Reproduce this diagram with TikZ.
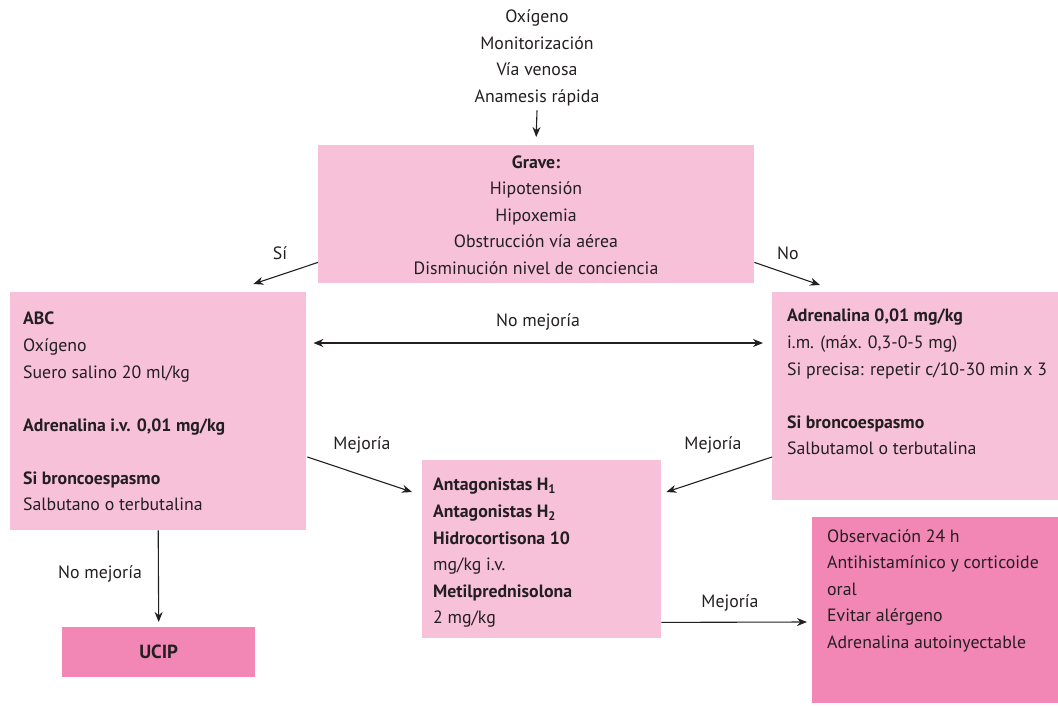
\documentclass[tikz,border=0pt]{standalone}
\usepackage{fontspec}
\setmainfont{PT Sans}
\usetikzlibrary{calc, arrows.meta}
\definecolor{softpink}{HTML}{F7C1D9}
\definecolor{deeppink}{HTML}{F287B6}
\definecolor{inkgray}{HTML}{231F20}
\tikzset{
  pale box/.style={fill=softpink, draw=none, inner sep=0pt, anchor=north west},
  deep box/.style={fill=deeppink, draw=none, inner sep=0pt, anchor=north west},
  box text/.style={inner sep=0pt, anchor=north west, align=left, text=inkgray},
  flow arrow/.style={-{Stealth[length=10pt, width=8pt]}, line width=1.1pt, inkgray},
  edge label/.style={inner sep=0pt, text=inkgray},
}
\newcommand{\gap}{\\[26.5pt]}

\begin{document}
\begin{tikzpicture}[x=1pt, y=-1pt, font=\fontsize{17.8}{26.6}\selectfont]
  \useasboundingbox (0,0) rectangle (1058,707);
  % first steps
  \node[edge label, align=center] (first) at (537,58) {Oxígeno\\Monitorización\\Vía venosa\\Anamesis rápida};
  \node[pale box, minimum width=436, minimum height=138] (grave) at (318,145) {};
  \node[edge label, align=center] (grave text) at (536,215) {\textbf{Grave:}\\Hipotensión\\Hipoxemia\\Obstrucción vía aérea\\Disminución nivel de conciencia};
  % left branch
  \node[pale box, minimum width=296, minimum height=238] (abc) at (10,292) {};
  \node[box text] (abc text) at (23,312) {\textbf{ABC}\\Oxígeno\\Suero salino 20 ml/kg\gap\textbf{Adrenalina i.v. 0,01 mg/kg}\gap\textbf{Si broncoespasmo}\\Salbutano o terbutalina};
  \node[deep box, minimum width=193, minimum height=50] (ucip) at (62,627) {};
  \node[edge label, font=\fontsize{19}{22}\selectfont\bfseries] (ucip text) at (ucip.center) {UCIP};
  % right branch
  \node[pale box, minimum width=286, minimum height=208] (adr) at (772,292) {};
  \node[box text] (adr text) at (787,309) {\textbf{Adrenalina 0,01 mg/kg}\\i.m. (máx. 0,3-0-5 mg)\\Si precisa: repetir c/10-30 min x 3\gap\textbf{Si broncoespasmo}\\Salbutamol o terbutalina};
  % middle and exit
  \node[pale box, minimum width=239, minimum height=178] (mid) at (422,460) {};
  \node[box text] (mid text) at (433,478) {\textbf{Antagonistas H\textsubscript{1}}\\\textbf{Antagonistas H\textsubscript{2}}\\\textbf{Hidrocortisona 10}\\mg/kg i.v.\\\textbf{Metilprednisolona}\\2 mg/kg};
  \node[deep box, minimum width=246, minimum height=186] (obs) at (812,517) {};
  \node[box text] (obs text) at (827,529) {Observación 24 h\\Antihistamínico y corticoide\\oral\\Evitar alérgeno\\Adrenalina autoinyectable};

  % connectors
  \draw[flow arrow] ($(first.south)+(0,4)$) -- ($(grave.north)+(0,-8)$);
  \draw[flow arrow] ($(grave.south west)+(0,-21)$) -- ($(abc.north east)+(-53,-8)$);
  \draw[flow arrow] ($(grave.south east)+(0,-21)$) -- ($(adr.north west)+(48,-7)$);
  \draw[flow arrow, {Stealth[length=10pt, width=8pt]}-{Stealth[length=10pt, width=8pt]}] ($(abc.north east)+(7,51)$) -- ($(adr.north west)+(-9,51)$);
  \draw[flow arrow] ($(abc.north east)+(1,165)$) -- ($(mid.north west)+(-10,32)$);
  \draw[flow arrow] ($(adr.north west)+(0,165)$) -- ($(mid.north east)+(5,32)$);
  \draw[flow arrow] (abc.south) -- ($(ucip.north)+(0,-5)$);
  \draw[flow arrow] ($(mid.south east)+(0,-16)$) -- ($(obs.north west)+(-5,105)$);

  % labels
  \node[edge label] (yes label) at (280,253) {Sí};
  \node[edge label] (no label) at (788,253) {No};
  \node[edge label] (worse label) at (538,322) {No mejoría};
  \node[edge label] (better left) at (362,445) {Mejoría};
  \node[edge label] (better right) at (713,445) {Mejoría};
  \node[edge label] (worse down) at (100,574) {No mejoría};
  \node[edge label] (better down) at (730,603) {Mejoría};
\end{tikzpicture}
\end{document}
